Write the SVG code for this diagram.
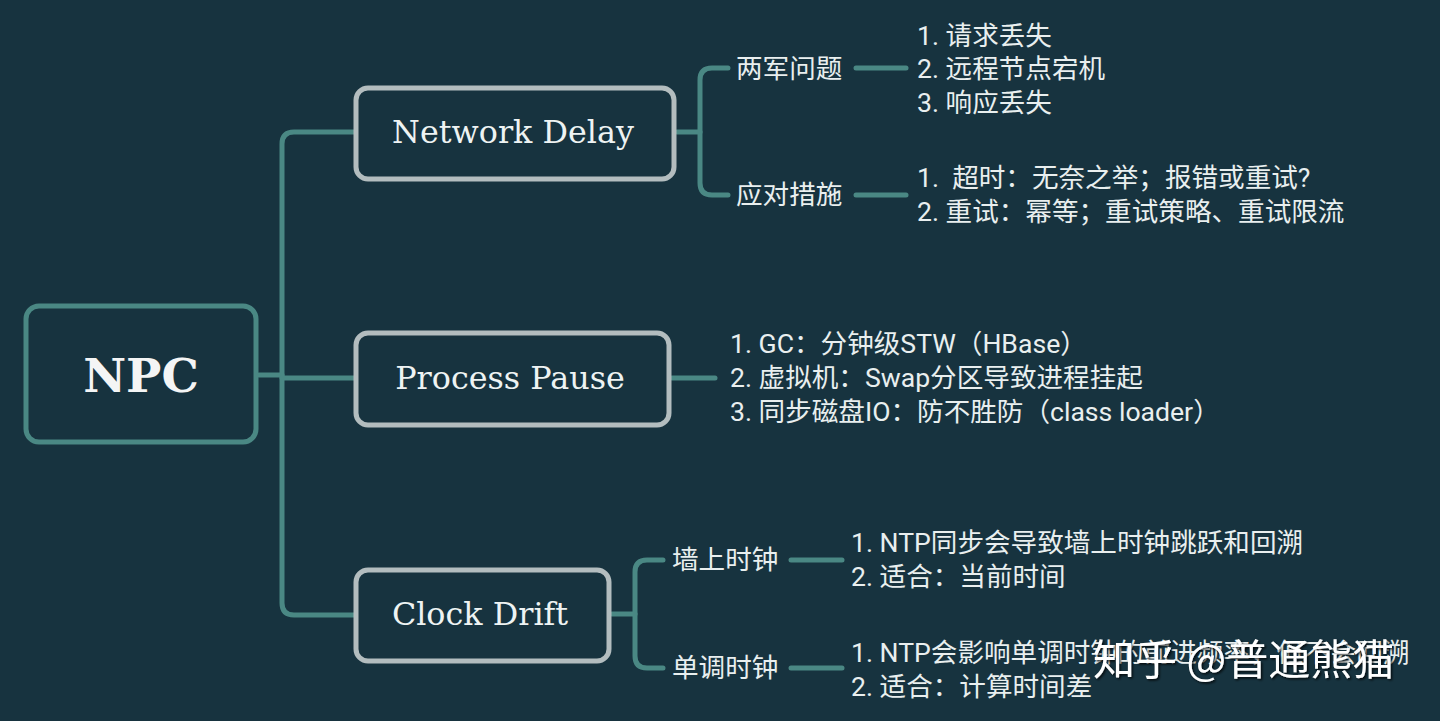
<svg xmlns="http://www.w3.org/2000/svg" width="1440" height="721" viewBox="0 0 1440 721">
<defs>
<style>
.bg{fill:#17333f}
.conn{fill:none;stroke:#4a8884;stroke-width:5;stroke-linecap:round;stroke-linejoin:round}
.root{fill:#17333f;stroke:#4a8884;stroke-width:5}
.box{fill:#17333f;stroke:#b3bdbf;stroke-width:5}
.rt{font-family:"DejaVu Serif",serif;font-weight:bold;font-size:47px;fill:#f4f5f5}
.bt{font-family:"DejaVu Serif",serif;font-size:31.8px;fill:#eef3f3}
.t{font-family:Roboto,"Noto Sans CJK SC",sans-serif;font-size:26.6px;fill:#e9efef}
.wm{font-family:"Noto Sans CJK SC",sans-serif;font-size:42px;fill:#ffffff}
</style>
<filter id="sh" x="-10%" y="-30%" width="120%" height="160%">
<feDropShadow dx="1.5" dy="1.5" stdDeviation="1" flood-color="#000000" flood-opacity="0.8"/>
</filter>
</defs>
<rect class="bg" x="0" y="0" width="1440" height="721"/>
<g id="connectors">
<path class="conn" d="M259 375 H282"/>
<path class="conn" d="M355 132 H294 Q282 132 282 144 V603 Q282 615 294 615 H355"/>
<path class="conn" d="M282 378 H355"/>
<path class="conn" d="M677 132 H700"/>
<path class="conn" d="M728 68 H712 Q700 68 700 80 V183 Q700 195 712 195 H728"/>
<path class="conn" d="M856 68 H906"/>
<path class="conn" d="M856 195 H906"/>
<path class="conn" d="M672 378 H715"/>
<path class="conn" d="M612 614 H635"/>
<path class="conn" d="M663 560 H647 Q635 560 635 572 V656 Q635 668 647 668 H663"/>
<path class="conn" d="M791 560 H842"/>
<path class="conn" d="M791 668 H842"/>
</g>
<g id="npc">
<rect class="root" x="26" y="306" width="230" height="136" rx="13"/>
<text class="rt" x="141" y="392" text-anchor="middle">NPC</text>
</g>
<g id="network-delay">
<rect class="box" x="356" y="88" width="318" height="91" rx="12"/>
<text class="bt" x="513" y="143" text-anchor="middle">Network Delay</text>
</g>
<g id="process-pause">
<rect class="box" x="356" y="333" width="313" height="92" rx="12"/>
<text class="bt" x="510" y="389" text-anchor="middle">Process Pause</text>
</g>
<g id="clock-drift">
<rect class="box" x="356" y="570" width="253" height="91" rx="12"/>
<text class="bt" x="480" y="625" text-anchor="middle">Clock Drift</text>
</g>
<g id="two-generals">
<text class="t" x="736" y="78">两军问题</text>
</g>
<g id="measures">
<text class="t" x="736" y="204">应对措施</text>
</g>
<g id="two-generals-list">
<text class="t" x="917" y="45">1. 请求丢失</text>
<text class="t" x="917" y="78">2. 远程节点宕机</text>
<text class="t" x="917" y="112">3. 响应丢失</text>
</g>
<g id="measures-list">
<text class="t" x="917" y="187" xml:space="preserve">1.  超时：无奈之举；报错或重试?</text>
<text class="t" x="917" y="221">2. 重试：幂等；重试策略、重试限流</text>
</g>
<g id="process-pause-list">
<text class="t" x="730" y="353">1. GC：分钟级STW（HBase）</text>
<text class="t" x="730" y="387">2. 虚拟机：Swap分区导致进程挂起</text>
<text class="t" x="730" y="421">3. 同步磁盘IO：防不胜防（class loader）</text>
</g>
<g id="wall-clock">
<text class="t" x="672" y="569">墙上时钟</text>
</g>
<g id="monotonic-clock">
<text class="t" x="672" y="677">单调时钟</text>
</g>
<g id="wall-clock-list">
<text class="t" x="851" y="552">1. NTP同步会导致墙上时钟跳跃和回溯</text>
<text class="t" x="851" y="586">2. 适合：当前时间</text>
</g>
<g id="monotonic-clock-list">
<text class="t" x="851" y="662">1. NTP会影响单调时钟的前进频率，但不会回溯</text>
<text class="t" x="851" y="696">2. 适合：计算时间差</text>
</g>
<g id="watermark">
<text class="wm" x="1093" y="675" filter="url(#sh)">知乎 @普通熊猫</text>
</g>
</svg>
